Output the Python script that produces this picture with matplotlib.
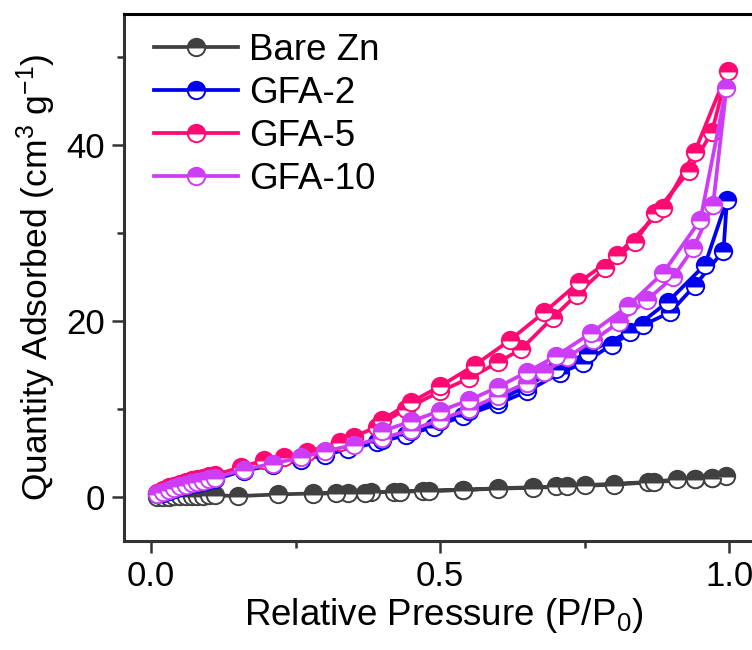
import matplotlib
matplotlib.use("Agg")
import matplotlib.pyplot as plt

plt.rcParams['font.family'] = ['Liberation Sans', 'DejaVu Sans']
plt.rcParams['mathtext.fontset'] = 'custom'
plt.rcParams['mathtext.rm'] = 'Liberation Sans'
plt.rcParams['mathtext.it'] = 'Liberation Sans:italic'

# Bare Zn: adsorption then desorption branch
zn_x = [0.01, 0.02, 0.03, 0.04, 0.05, 0.06, 0.07, 0.08, 0.09, 0.10, 0.11,
        0.15, 0.22, 0.28, 0.34, 0.38, 0.42, 0.47, 0.54, 0.60, 0.66, 0.70,
        0.75, 0.80, 0.86, 0.91, 0.94, 0.97, 0.995,
        0.97, 0.94, 0.87, 0.80, 0.72, 0.66, 0.60, 0.54, 0.48, 0.43, 0.37, 0.32, 0.28]
zn_y = [0.0, 0.02, 0.04, 0.06, 0.08, 0.1, 0.12, 0.14, 0.16, 0.18, 0.2,
        0.1, 0.3, 0.4, 0.5, 0.55, 0.6, 0.7, 0.8, 1.0, 1.1, 1.2,
        1.35, 1.5, 1.7, 2.0, 2.1, 2.2, 2.4,
        2.2, 2.0, 1.7, 1.4, 1.2, 1.05, 0.95, 0.8, 0.7, 0.6, 0.5, 0.45, 0.35]

# GFA-2
g2_x = [0.01, 0.02, 0.03, 0.04, 0.05, 0.06, 0.07, 0.08, 0.09, 0.10, 0.11,
        0.16, 0.21, 0.26, 0.30, 0.34, 0.39, 0.44, 0.49, 0.54, 0.60, 0.65,
        0.707, 0.747, 0.797, 0.85, 0.898, 0.94, 0.99, 0.996,
        0.958, 0.894, 0.828, 0.755, 0.70, 0.65, 0.60, 0.55, 0.50, 0.45, 0.40]
g2_y = [0.3, 0.5, 0.7, 0.9, 1.1, 1.3, 1.45, 1.6, 1.75, 1.9, 2.0,
        3.0, 3.6, 4.2, 4.8, 5.4, 6.2, 7.0, 8.0, 9.2, 10.6, 12.0,
        14.1, 15.2, 17.3, 19.5, 21.0, 24.0, 28.0, 33.8,
        26.4, 22.2, 18.8, 16.4, 14.5, 12.6, 11.0, 9.8, 8.6, 7.5, 6.5]

# GFA-5
g5_x = [0.01, 0.02, 0.03, 0.04, 0.05, 0.06, 0.07, 0.08, 0.09, 0.10, 0.11,
        0.156, 0.196, 0.23, 0.27, 0.326, 0.35, 0.39, 0.44, 0.50, 0.55, 0.60,
        0.64, 0.695, 0.736, 0.785, 0.837, 0.872, 0.93, 0.97, 0.997,
        0.94, 0.886, 0.806, 0.74, 0.68, 0.62, 0.56, 0.50, 0.45, 0.40]
g5_y = [0.5, 0.8, 1.1, 1.3, 1.5, 1.7, 1.9, 2.05, 2.2, 2.35, 2.5,
        3.4, 4.2, 4.6, 5.1, 6.3, 6.8, 8.0, 10.0, 12.0, 13.5, 15.3,
        16.8, 20.4, 23.0, 26.0, 29.0, 32.3, 37.0, 41.5, 48.4,
        39.2, 32.8, 27.5, 24.4, 21.0, 17.8, 15.0, 12.6, 10.8, 8.8]

# GFA-10
g10_x = [0.01, 0.02, 0.03, 0.04, 0.05, 0.06, 0.07, 0.08, 0.09, 0.10, 0.11,
         0.16, 0.21, 0.26, 0.30, 0.35, 0.40, 0.45, 0.50, 0.55, 0.60, 0.65,
         0.68, 0.72, 0.765, 0.81, 0.858, 0.903, 0.938, 0.972, 0.995,
         0.95, 0.886, 0.825, 0.76, 0.70, 0.65, 0.60, 0.55, 0.50, 0.45, 0.40]
g10_y = [0.3, 0.55, 0.8, 1.0, 1.2, 1.4, 1.55, 1.7, 1.85, 2.0, 2.2,
         3.1, 3.8, 4.5, 5.2, 5.9, 6.7, 7.6, 8.8, 10.0, 11.5, 13.0,
         14.2, 15.9, 17.8, 19.9, 22.4, 25.0, 28.3, 33.2, 46.5,
         31.5, 25.5, 21.7, 18.6, 16.0, 14.2, 12.5, 11.0, 9.8, 8.6, 7.5]

series = [
    ("Bare Zn", zn_x, zn_y, "#404040"),
    ("GFA-2", g2_x, g2_y, "#0000EE"),
    ("GFA-5", g5_x, g5_y, "#FF0A73"),
    ("GFA-10", g10_x, g10_y, "#CC3DF5"),
]

fs = 26.5

fig = plt.figure(figsize=(7.52, 6.5), dpi=100)
ax = fig.add_axes([0.1649, 0.1677, 0.851, 0.8108])

for name, x, y, c in series:
    ax.plot(x, y, '-', color=c, lw=2.7, marker='o', ms=12.5,
            fillstyle='top', markerfacecolor=c, markerfacecoloralt='white',
            markeredgecolor=c, markeredgewidth=1.4, label=name)

ax.set_xlim(-0.047, 1.06)
ax.set_ylim(-5.0, 54.9)
ax.set_xticks([0.0, 0.5, 1.0])
ax.set_xticks([0.25, 0.75], minor=True)
ax.set_yticks([0, 20, 40])
ax.set_yticks([10, 30, 50], minor=True)
ax.set_xticklabels(['0.0', '0.5', '1.0'])

for s in ax.spines.values():
    s.set_linewidth(2.2)
    s.set_color('#333333')
ax.spines['top'].set_color('black')

ax.tick_params(which='major', direction='out', length=8.5, width=1.8,
               color='#333333', labelsize=25, pad=5)
ax.tick_params(which='minor', direction='out', length=5, width=1.8,
               color='#333333')

ax.set_xlabel('Relative Pressure (P/P$_0$)', fontsize=fs, labelpad=2)
ax.set_ylabel('Quantity Adsorbed (cm$^3$ g$^{-1}$)', fontsize=25.5, labelpad=6)

ax.legend(loc='upper left', frameon=False, fontsize=fs, numpoints=1,
          handlelength=2.28, handletextpad=0.3, labelspacing=0.22,
          borderaxespad=0.3, borderpad=0.3, bbox_to_anchor=(0.0125, 1.006))

fig.savefig('out.png', dpi=100)
